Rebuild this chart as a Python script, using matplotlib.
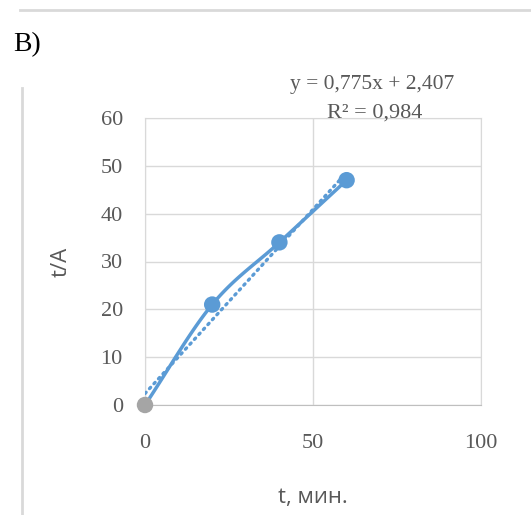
import matplotlib
matplotlib.use("Agg")
import matplotlib.pyplot as plt
import numpy as np

# data
t_min = [0, 20, 40, 60]
t_A = [0, 21, 34, 47]
point_colors = ["#a5a5a5", "#5b9bd5", "#5b9bd5", "#5b9bd5"]
x_ticks = [0, 50, 100]
y_ticks = [0, 10, 20, 30, 40, 50, 60]
eq_text = "y = 0,775x + 2,407"
r2_text = "R² = 0,984"

blue = "#5b9bd5"
grey_txt = "#595959"


def smooth(xs, ys, n=30):
    # catmull-rom style smoothing, like excel's smoothed line
    xs = np.array(xs, float)
    ys = np.array(ys, float)
    px = np.concatenate([[2 * xs[0] - xs[1]], xs, [2 * xs[-1] - xs[-2]]])
    py = np.concatenate([[2 * ys[0] - ys[1]], ys, [2 * ys[-1] - ys[-2]]])
    ox, oy = [], []
    for i in range(1, len(px) - 2):
        s = np.linspace(0, 1, n)
        for p, o in ((px, ox), (py, oy)):
            p0, p1, p2, p3 = p[i - 1], p[i], p[i + 1], p[i + 2]
            o.extend(0.5 * ((2 * p1) + (-p0 + p2) * s + (2 * p0 - 5 * p1 + 4 * p2 - p3) * s ** 2
                            + (-p0 + 3 * p1 - 3 * p2 + p3) * s ** 3))
    return ox, oy


fig = plt.figure(figsize=(5.31, 5.15), dpi=100)
ax = fig.add_axes([145 / 531, 1 - 405 / 515, 336 / 531, 287 / 515])

sx, sy = smooth(t_min, t_A)
ax.plot(sx, sy, color=blue, lw=2.5, zorder=3, solid_capstyle="round")

# linear trendline
k, b = np.polyfit(t_min, t_A, 1)
tx = np.array([t_min[0], t_min[-1]])
ax.plot(tx, k * tx + b, color=blue, lw=2.4, ls=(0, (0.5, 1.5)), zorder=3, dash_capstyle="round")

ax.scatter(t_min, t_A, s=140, c=point_colors, zorder=4, linewidths=0, clip_on=False)

ax.set_xlim(0, 100)
ax.set_ylim(0, 60)
ax.set_xticks(x_ticks)
ax.set_yticks(y_ticks)
ax.grid(True, color="#d9d9d9", lw=1)
ax.set_axisbelow(True)
for side in ["top", "right", "left"]:
    ax.spines[side].set_color("#d9d9d9")
ax.spines["bottom"].set_color("#bfbfbf")
ax.tick_params(length=0, colors=grey_txt, labelsize=16)
ax.tick_params(axis="x", pad=21)
ax.tick_params(axis="y", pad=16)
for lab in ax.get_xticklabels() + ax.get_yticklabels():
    lab.set_family("Liberation Serif")

ax.set_xlabel("t, мин.", fontsize=16, color=grey_txt, family="Open Sans", va="center")
ax.set_ylabel("t/A", fontsize=16, color=grey_txt, family="Open Sans", va="center")
ax.xaxis.set_label_coords((313 - 145) / 336, (405 - 497) / 287)
ax.yaxis.set_label_coords((61 - 145) / 336, (405 - 262) / 287)

fig.text(372 / 531, 1 - 84 / 515, eq_text, ha="center", va="center", fontsize=15.5,
         color=grey_txt, family="Liberation Serif")
fig.text(375 / 531, 1 - 113 / 515, r2_text, ha="center", va="center", fontsize=16,
         color=grey_txt, family="Liberation Serif")
fig.text(13 / 531, 1 - 45 / 515, "B)", ha="left", va="center", fontsize=20,
         color="black", family="Liberation Serif")

# frame lines from the surrounding document
fig.add_artist(plt.Line2D([20 / 531, 1], [1 - 10 / 515] * 2, color="#d9d9d9", lw=2))
fig.add_artist(plt.Line2D([22 / 531] * 2, [0, 1 - 88 / 515], color="#d9d9d9", lw=2))

fig.savefig("out.png", dpi=100)
